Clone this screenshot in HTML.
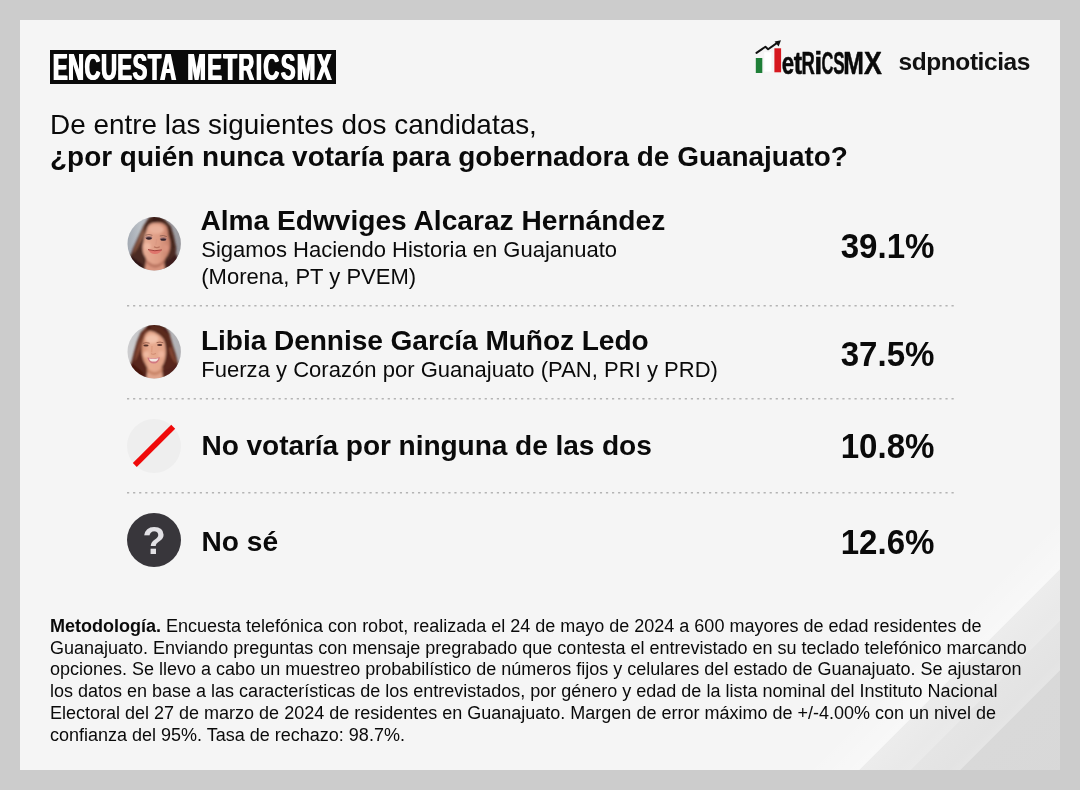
<!DOCTYPE html>
<html lang="es">
<head>
<meta charset="utf-8">
<title>Encuesta MetricsMX</title>
<style>
html,body{margin:0;padding:0}
body{width:1080px;height:790px;background:#cccccc;position:relative;overflow:hidden;font-family:"Liberation Sans",Arial,sans-serif;color:#0a0a0a}
.panel{position:absolute;left:20px;top:20px;width:1040px;height:750px;background:#f5f5f5;overflow:hidden}
.corner{position:absolute;left:0;top:0;width:1040px;height:750px;
 background:linear-gradient(135deg,rgba(255,255,255,0) 0,rgba(255,255,255,0) 1085px,rgba(255,255,255,.3) 1123.4px,#ececec 1124.2px,#e9e9e9 1150px,#eaeaea 1159.8px,#e5e5e5 1160.6px,#e3e3e3 1186px,#e5e5e5 1194.8px,#d9d9d9 1195.6px,#d8d8d8 1300px)}
#layer{position:absolute;left:0;top:0;width:1080px;height:790px;will-change:transform}
.abs{position:absolute;white-space:nowrap;line-height:1}
.title{left:50px;top:50px;width:285.7px;height:34px;background:#0a0a0a}
.title span{position:absolute;left:3.4px;top:0.6px;font-weight:bold;font-size:36.5px;line-height:34px;letter-spacing:2.6px;word-spacing:5.4px;color:#fff;transform-origin:0 50%;transform:scaleX(0.6);white-space:nowrap;text-shadow:1.1px 0 0 #fff,-1.1px 0 0 #fff}
.title i{font-style:normal;letter-spacing:1.0px}
.q1{left:50px;top:109px;font-size:27.9px;line-height:32px}
.q2{left:50px;top:141.4px;font-size:27.95px;line-height:32px;font-weight:bold}
.name{left:201px;font-size:28.1px;font-weight:bold;line-height:32px}
.sub{left:201.3px;font-size:22px;line-height:28px}
.pct{right:145px;font-size:35.8px;font-weight:bold;line-height:40px;transform-origin:100% 50%;transform:scaleX(.924)}
.sep{position:absolute;left:126.7px;width:827px;height:4px;overflow:visible}
.ico{position:absolute;left:127px;width:54px;height:54px}
.met{position:absolute;left:50px;top:616px;width:1000px;font-size:18px;line-height:21.7px;white-space:nowrap}
.sdp{left:898.6px;top:47px;font-size:24.5px;font-weight:bold;letter-spacing:-.44px;line-height:30px;color:#111}
</style>
</head>
<body>
<div class="panel"><div class="corner"></div></div>

<div id="layer">
<div class="abs title"><span><i>ENCUESTA</i> METRICSMX</span></div>

<!-- logos -->
<svg class="abs" style="left:750px;top:38px" width="140" height="44" viewBox="0 0 140 44">
  <rect x="5.8" y="20" width="6.5" height="15" fill="#1f7f38"/>
  <rect x="14.3" y="14.2" width="7.1" height="19.4" fill="#ffffff"/>
  <rect x="24.4" y="10.3" width="6.7" height="24" fill="#d6181f"/>
  <path d="M6.5 14.9 L15.4 8.8 L18.1 11.2 L27.5 4.6" fill="none" stroke="#111" stroke-width="2" stroke-linejoin="round" stroke-linecap="round"/>
  <path d="M31 2.2 L24.6 3.4 L28.6 8.6 Z" fill="#111"/>
  <text y="35.6" font-family="Liberation Sans, sans-serif" font-weight="bold" font-size="31" fill="#0a0a0a" stroke="#0a0a0a" stroke-width=".5" stroke-linejoin="round" lengthAdjust="spacingAndGlyphs"><tspan x="31.7" textLength="12.4" lengthAdjust="spacingAndGlyphs">e</tspan><tspan x="43.8" textLength="8.4" lengthAdjust="spacingAndGlyphs">t</tspan><tspan x="51.4" textLength="13.3" lengthAdjust="spacingAndGlyphs">R</tspan><tspan x="64.2" textLength="8.0" lengthAdjust="spacingAndGlyphs">i</tspan><tspan x="71.4" textLength="11.9" lengthAdjust="spacingAndGlyphs">C</tspan><tspan x="83.2" textLength="11.4" lengthAdjust="spacingAndGlyphs">S</tspan><tspan x="93.2" textLength="20.6" lengthAdjust="spacingAndGlyphs">M</tspan><tspan x="114.0" textLength="17.8" lengthAdjust="spacingAndGlyphs">X</tspan></text>
</svg>
<div class="abs sdp">sdpnoticias</div>

<div class="abs q1">De entre las siguientes dos candidatas,</div>
<div class="abs q2">¿por quién nunca votaría para gobernadora de Guanajuato?</div>

<!-- row 1 -->
<div class="abs name" style="top:204.9px;left:200.4px;letter-spacing:.02px">Alma Edwviges Alcaraz Hernández</div>
<div class="abs sub" style="top:235.5px">Sigamos Haciendo Historia en Guajanuato</div>
<div class="abs sub" style="top:263px">(Morena, PT y PVEM)</div>
<div class="abs pct" style="top:225.5px">39.1%</div>
<svg class="sep" style="top:304.6px" viewBox="0 0 827 4"><line x1="0" y1=".8" x2="827" y2=".8" stroke="#b4b4b4" stroke-width="1.6" stroke-dasharray="2.2 3.8625"/></svg>

<!-- row 2 -->
<div class="abs name" style="top:325px;letter-spacing:-.063px">Libia Dennise García Muñoz Ledo</div>
<div class="abs sub" style="top:355.5px;letter-spacing:.022px">Fuerza y Corazón por Guanajuato (PAN, PRI y PRD)</div>
<div class="abs pct" style="top:333.5px">37.5%</div>
<svg class="sep" style="top:398.1px" viewBox="0 0 827 4"><line x1="0" y1=".8" x2="827" y2=".8" stroke="#b4b4b4" stroke-width="1.6" stroke-dasharray="2.2 3.8625"/></svg>

<!-- row 3 -->
<div class="abs name" style="top:430.2px;left:201.5px;letter-spacing:-.075px">No votaría por ninguna de las dos</div>
<div class="abs pct" style="top:425.5px">10.8%</div>
<svg class="sep" style="top:492.4px" viewBox="0 0 827 4"><line x1="0" y1=".8" x2="827" y2=".8" stroke="#b4b4b4" stroke-width="1.6" stroke-dasharray="2.2 3.8625"/></svg>

<!-- row 4 -->
<div class="abs name" style="top:526.2px;left:201.5px">No sé</div>
<div class="abs pct" style="top:521.5px">12.6%</div>

<!-- icons -->
<svg class="ico" style="top:217px" viewBox="0 0 54 54">
  <defs>
    <clipPath id="c1"><circle cx="27.2" cy="26.8" r="26.7"/></clipPath>
    <filter id="b1" x="-20%" y="-20%" width="140%" height="140%"><feGaussianBlur stdDeviation=".8"/></filter>
    <filter id="b1s" x="-40%" y="-40%" width="180%" height="180%"><feGaussianBlur stdDeviation=".45"/></filter>
    <linearGradient id="bg1" x1="0" y1="0" x2="1" y2="0"><stop offset="0" stop-color="#a2a9b2"/><stop offset=".25" stop-color="#bcc1c7"/><stop offset=".8" stop-color="#a4a4a9"/><stop offset="1" stop-color="#98989d"/></linearGradient>
    <linearGradient id="sk1" x1="0" y1="0" x2="1" y2="0"><stop offset="0" stop-color="#e8ad95"/><stop offset=".6" stop-color="#de9c84"/><stop offset="1" stop-color="#c47e68"/></linearGradient>
  </defs>
  <g clip-path="url(#c1)">
    <rect width="54" height="54" fill="url(#bg1)"/>
    <g filter="url(#b1)">
      <path d="M27.4 -2 C24 -2 22.5 0 21 2 L16.7 8.4 L11.4 19.8 L6.1 31.2 L3.5 38 L-1 46 L6 58 L48 58 L52 44 L48.6 39.5 L49.4 31.2 L47.1 19.8 L44 9.2 L36.5 2.3 C33 -1 30 -2 27.4 -2 Z" fill="#4b2a24"/>
      <path d="M21.5 3.5 L17.5 9 L12.5 19.5 L7.5 31 L5.5 37.5 C9.5 34 13 27 15.5 21 C17.5 14.5 19.5 9 23 5 Z" fill="#84533f"/>
      <path d="M18.6 9.5 L15 18 L11.2 27.5 C14 24.5 16 20 17.6 15.5 Z" fill="#9d6b56"/>
      <path d="M3 39 C6 40 10 44 15 47 L19 56 L2 56 Z" fill="#2f1512"/>
      <path d="M39 44 C43 42 47 40 49.5 37 L52 46 L40 56 Z" fill="#3d1f1a"/>
      <!-- neck & chest -->
      <path d="M19.5 41 L36.5 41 L38.5 57 L17 57 Z" fill="#d9957f"/>
      <path d="M18.5 41.5 Q28.5 52.5 38.5 40.5 L37 46 Q28.5 55 20 46.5 Z" fill="#b8735f"/>
      <!-- face -->
      <path d="M29.7 5.4 C24 5.5 20.5 8 19.8 12.2 C18.5 16 17.3 19 17.1 22.1 C16.5 26 15.4 28.5 15.6 31.2 C15.8 34.5 16.5 37 18 39.6 C19.6 42.5 21 44.2 23 45.7 C25 47.2 27 47.6 28.9 47.5 C31.5 47.3 33.8 46 35.8 44 C38.2 41.6 40.4 39.3 41.6 36.3 C43 33 43.4 30 43.3 27.4 C43.2 24 42.6 22 41.8 19.8 C41.2 16 41 13.5 40.3 10.7 C39 7 35 5.3 29.7 5.4 Z" fill="url(#sk1)"/>
      <ellipse cx="29.5" cy="12.5" rx="7.5" ry="4.2" fill="#e9b09a"/>
      <ellipse cx="20.5" cy="29.5" rx="3.2" ry="3.4" fill="#efb8a2"/>
      <ellipse cx="38.4" cy="31" rx="3" ry="3.8" fill="#db947f"/>
      <!-- crown & right strand -->
      <path d="M21 3 C24 -1 32 -1 37 2 C41 5 43.5 9 44.5 14 C45.5 20 47 25 48.5 30 L46 31 C44.5 28 43.6 24 42.4 20 C41.4 15 40.8 11.5 39.6 9 C37 6 33 5.2 29.7 5.3 C26 5.2 23 6.5 21 9 C19.6 11.5 19 14 18.2 17 C16.5 14 18 7.5 21 3 Z" fill="#46261f"/>
      <path d="M27 -1 C31 -1 35 0 38 3 C34 2.6 30 3 27 4.6 C25 3.4 25 0 27 -1 Z" fill="#3a1d18"/>
    </g>
    <g filter="url(#b1s)">
      <ellipse cx="21.8" cy="20.7" rx="3.5" ry="1.7" fill="#8f6a70" opacity=".85"/>
      <ellipse cx="36.2" cy="21.9" rx="3.4" ry="1.6" fill="#8f6a70" opacity=".85"/>
      <ellipse cx="21.9" cy="21.5" rx="2.9" ry="1.15" fill="#37242a"/>
      <ellipse cx="36.3" cy="22.7" rx="2.8" ry="1.15" fill="#37242a"/>
      <path d="M18.4 18.2 Q22 16.8 25.4 18.3" stroke="#85574b" stroke-width="1" fill="none" opacity=".8"/>
      <path d="M32.8 19 Q36.3 17.8 39.8 19.6" stroke="#85574b" stroke-width="1" fill="none" opacity=".8"/>
      <path d="M27 29.7 Q29.8 31.4 32.8 29.7" stroke="#b9735f" stroke-width="1.3" fill="none"/>
      <path d="M29.6 22 L29 28" stroke="#d99782" stroke-width="1.4" fill="none" opacity=".8"/>
      <path d="M21.2 32.7 Q27.8 34.4 34.7 33 Q32.5 37.3 27.8 37.1 Q23.4 36.9 21.2 32.7 Z" fill="#df756c"/>
      <path d="M21 32.6 Q27.8 34.7 34.9 32.9" stroke="#a3403c" stroke-width="1" fill="none"/>
    </g>
  </g>
</svg>
<svg class="ico" style="top:325px" viewBox="0 0 54 54">
  <defs>
    <clipPath id="c2"><circle cx="27.2" cy="26.8" r="26.7"/></clipPath>
    <filter id="b2" x="-20%" y="-20%" width="140%" height="140%"><feGaussianBlur stdDeviation=".85"/></filter>
    <filter id="b2s" x="-40%" y="-40%" width="180%" height="180%"><feGaussianBlur stdDeviation=".5"/></filter>
    <linearGradient id="bg2" x1="0" y1="0" x2="1" y2="0"><stop offset="0" stop-color="#cdcdcf"/><stop offset=".6" stop-color="#bcbcbf"/><stop offset="1" stop-color="#b0b0b4"/></linearGradient>
    <linearGradient id="sk2" x1="0" y1="0" x2="1" y2="0"><stop offset="0" stop-color="#d48e70"/><stop offset=".3" stop-color="#e8ab90"/><stop offset="1" stop-color="#e3a489"/></linearGradient>
  </defs>
  <g clip-path="url(#c2)">
    <rect width="54" height="54" fill="url(#bg2)"/>
    <g filter="url(#b2)">
      <!-- hair mass -->
      <path d="M27 -2 C23 -2 21 0 19.8 1.6 L13.7 7.6 L9.9 16.7 L6.9 27.4 L4.6 36.5 L2 44 L8 58 L46 58 L53 45 L50.9 38 L48.6 28.9 L45.6 19.8 L42.6 9.2 L36.5 2.3 C33 -1 30 -2 27 -2 Z" fill="#58281c"/>
      <path d="M20 3.5 L15.5 9 L12 18 L9 29 L7 37 C10 33 12.5 27 14 21 C15.5 14 17.5 8.5 22 4.5 Z" fill="#8d4e38"/>
      <path d="M40 10 C43 15 44 22 46 28 C47.5 33 49 36 50 39 C46 36 43.5 31 42.5 26 C41.5 20 41 15 40 10 Z" fill="#874a36"/>
      <path d="M4 38 C8 40 12 44 16 47 L19 57 L3 57 Z" fill="#46190f"/>
      <path d="M37 45 C42 44 47 41 50.5 38 L53 47 L40 57 Z" fill="#52241a"/>
      <path d="M20 1 C25 -2 33 -2 38 2 C41 5 42.5 8 43 11 C39 7 33 4 25 4.5 C23 4.6 21 5 19.5 6 Z" fill="#3e170f"/>
      <!-- neck -->
      <path d="M21 42 L34.5 42 L36.5 57 L19 57 Z" fill="#e0a48c"/>
      <path d="M19.5 42 Q27.4 52 36 42 L35 46.5 Q27.4 54 20.5 46.5 Z" fill="#c98568"/>
      <!-- face -->
      <path d="M22.8 6.1 C19.5 7.5 17.8 9.5 17.1 12.2 C15.8 15.5 15 19 14.8 22.1 C14.6 25 14.7 28 15.2 30.4 C15.8 33.5 16.6 36 17.9 38 C19 40.5 20.3 42.5 22.1 44.1 C23.8 45.7 25.5 46.4 27.4 46.4 C29.8 46.3 31.8 45.2 33.5 43.3 C35.3 41.3 36.5 39 37.3 36.5 C38.2 34 38.7 31.5 38.8 28.9 C38.9 26 38.8 23.5 38.4 21.3 C38 18.5 37.4 16.5 36.5 14.5 C34.5 11.5 32.5 9.8 29.7 8.4 C27.5 7 25 6.2 22.8 6.1 Z" fill="url(#sk2)"/>
      <ellipse cx="25" cy="14" rx="6.5" ry="4.2" fill="#f2c2ab"/>
      <ellipse cx="19.4" cy="29.5" rx="3" ry="3.2" fill="#f0b9a1"/>
      <ellipse cx="34.2" cy="29.2" rx="3" ry="3.2" fill="#eeb59d"/>
      <!-- fringe sweeping right -->
      <path d="M21.5 4.6 C27 4.6 32 7 35.5 11.5 C38 15 39.2 19 40 24 L44 22 L42.5 10 L35 2 L25 0 Z" fill="#5a291d"/>
      <path d="M23 5.6 C20 6.5 17.5 9 16.8 12.5 C16 15 15.3 18 15 20.5 C13.5 17 14.5 11 17.5 6.5 C19.5 3.8 22 4 23 5.6 Z" fill="#6f3828"/>
    </g>
    <g filter="url(#b2s)">
      <ellipse cx="19" cy="20.6" rx="2.6" ry="1" fill="#55302a"/>
      <ellipse cx="32.7" cy="19.9" rx="2.6" ry="1" fill="#55302a"/>
      <path d="M15.8 18.4 Q19 16.9 22.6 18.2" stroke="#8a5140" stroke-width=".9" fill="none" opacity=".85"/>
      <path d="M29.6 17.6 Q33 16.4 36.4 17.8" stroke="#8a5140" stroke-width=".9" fill="none" opacity=".85"/>
      <path d="M25 21 L24.6 27.4" stroke="#dd9a7e" stroke-width="1.5" fill="none" opacity=".85"/>
      <path d="M24 28.6 Q26.2 30 28.8 28.6" stroke="#cf8a70" stroke-width="1.1" fill="none"/>
      <path d="M20.3 32.6 Q26.6 34 32.9 32.2 Q31.8 38.6 26.8 38.6 Q21.8 38.6 20.3 32.6 Z" fill="#d27880"/>
      <path d="M22 33.4 Q26.6 34.4 31.4 33.2 Q30.6 36.6 26.8 36.6 Q23 36.6 22 33.4 Z" fill="#f4e6e1"/>
    </g>
  </g>
</svg>
<svg class="ico" style="top:419px" viewBox="0 0 54 54"><circle cx="27" cy="27" r="27" fill="#eeeeee"/><path d="M7.8 45.9 L46.2 7.8" stroke="#f00a0a" stroke-width="5.6" fill="none"/></svg>
<svg class="ico" style="top:513px" viewBox="0 0 54 54"><circle cx="27" cy="27" r="27" fill="#38363b"/><text x="27" y="40.5" text-anchor="middle" font-family="Liberation Sans, sans-serif" font-weight="bold" font-size="38" fill="#e2e1e5">?</text></svg>

<div class="met"><b>Metodología.</b> Encuesta telefónica con robot, realizada el 24 de mayo de 2024 a 600 mayores de edad residentes de <br>Guanajuato. Enviando preguntas con mensaje pregrabado que contesta el entrevistado en su teclado telefónico marcando <br>opciones. Se llevo a cabo un muestreo probabilístico de números fijos y celulares del estado de Guanajuato. Se ajustaron <br>los datos en base a las características de los entrevistados, por género y edad de la lista nominal del Instituto Nacional <br>Electoral del 27 de marzo de 2024 de residentes en Guanajuato. Margen de error máximo de +/-4.00% con un nivel de <br>confianza del 95%. Tasa de rechazo: 98.7%.</div>
</div>
</body>
</html>
